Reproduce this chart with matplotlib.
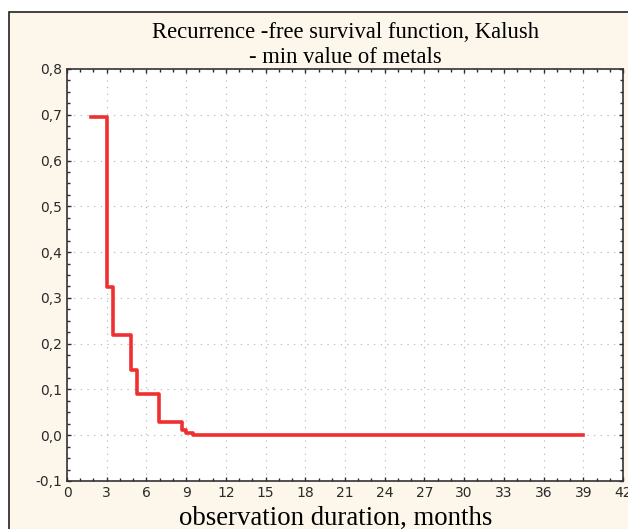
import matplotlib
matplotlib.use('Agg')
import matplotlib.pyplot as plt
from matplotlib.patches import Rectangle
from matplotlib.ticker import MultipleLocator, FuncFormatter

# Kaplan-Meier style step curve: (time in months, survival)
months = [1.8, 3.0, 3.5, 4.8, 5.25, 6.95, 8.7, 9.0, 9.5, 39.0]
survival = [0.695, 0.324, 0.22, 0.142, 0.089, 0.029, 0.011, 0.004, 0.0, 0.0]

title = 'Recurrence -free survival function, Kalush\n- min value of metals'
xlabel = 'observation duration, months'

fig = plt.figure(figsize=(6.28, 5.29), dpi=100)
fig.patch.set_facecolor('white')
W, H = 628, 529
fig.patches.append(Rectangle((9 / W, -0.05), 1.1, 1.05 - 12 / H, transform=fig.transFigure,
                             facecolor='#fdf6ea', edgecolor='#222222', linewidth=1.2,
                             zorder=-10))

ax = fig.add_axes([67 / W, 1 - 481 / H, (623 - 67) / W, (481 - 69) / H])
ax.set_facecolor('white')

ax.step(months, survival, where='post', color='#f03030', linewidth=2.6, zorder=3)

ax.set_xlim(0, 42)
ax.set_ylim(-0.1, 0.8)
ax.xaxis.set_major_locator(MultipleLocator(3))
ax.xaxis.set_minor_locator(MultipleLocator(1))
ax.yaxis.set_major_locator(MultipleLocator(0.1))
ax.yaxis.set_minor_locator(MultipleLocator(0.025))
ax.yaxis.set_major_formatter(FuncFormatter(lambda v, p: f'{v:.1f}'.replace('.', ',')))

ax.grid(True, which='major', color='#b0b0b0', linestyle=(0, (1, 5)), linewidth=0.8)
ax.tick_params(which='both', direction='in', top=True, right=True, colors='#2a2a2a',
               labelsize=10)
ax.tick_params(which='major', length=3, width=1)
ax.tick_params(which='minor', length=2.5, width=1)
for lab in ax.get_xticklabels() + ax.get_yticklabels():
    lab.set_family(['Liberation Sans Narrow', 'DejaVu Sans Condensed', 'DejaVu Sans'])
for s in ax.spines.values():
    s.set_color('#333333')
    s.set_linewidth(1.2)

ax.set_title(title, family=['Liberation Serif', 'DejaVu Serif'], fontsize=16.3,
             linespacing=1.3, pad=4)
fig.text(0.535, 1 - 518 / H, xlabel, family=['Liberation Serif', 'DejaVu Serif'],
         fontsize=19.3, ha='center', va='center')

fig.savefig('out.png', dpi=100, facecolor=fig.get_facecolor())
